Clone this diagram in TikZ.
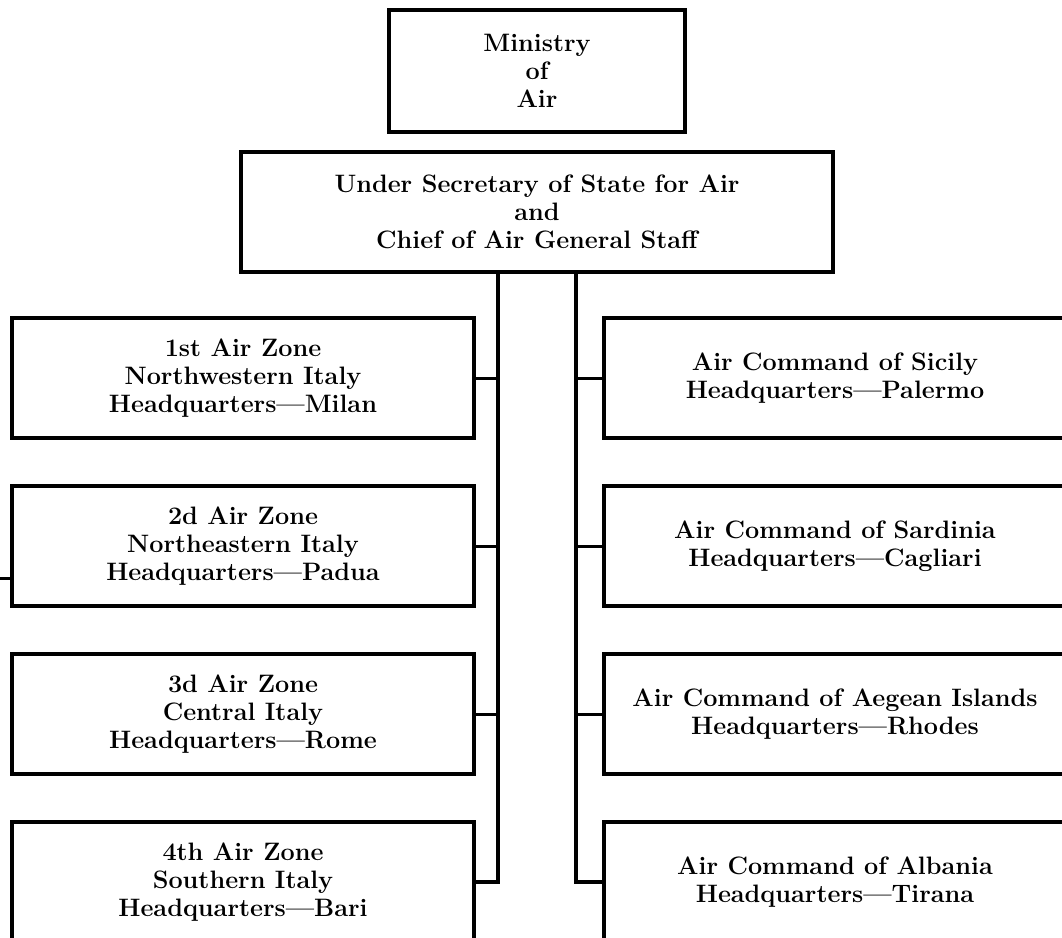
\documentclass[tikz,border=0pt]{standalone}
\usepackage{tikz}
\usetikzlibrary{positioning,calc}
\tikzset{
  org/box/.style={draw, line width=2pt, align=center, inner sep=0pt,
    minimum width=231pt, minimum height=60pt,
    font=\fontsize{12.6}{14}\selectfont\bfseries},
  org/head/.style={org/box, minimum width=148pt, minimum height=61pt},
  org/staff/.style={org/box, minimum width=296pt, minimum height=60pt},
  org/spine/.style={line width=2pt},
  org/tick/.style={line width=1.5pt}
}
\newcommand{\hq}[1]{Headquarters\textemdash#1}

\begin{document}
\begin{tikzpicture}[x=0.5pt, y=-0.5pt, node distance=22pt and 63pt]
  \useasboundingbox (0,0) rectangle (1062,938);
  \clip (0,0) rectangle (1062,938);

  \node[org/head] (ministry) at (537,71) {Ministry\\of\\Air};
  \node[org/staff, below=8pt of ministry] (undersec)
    {Under Secretary of State for Air\\and\\Chief of Air General Staff};

  % air zones
  \node[org/box] (zone1) at (243,378) {1st Air Zone\\Northwestern Italy\\\hq{Milan}};
  \node[org/box, below=of zone1] (zone2) {2d Air Zone\\Northeastern Italy\\\hq{Padua}};
  \node[org/box, below=of zone2] (zone3) {3d Air Zone\\Central Italy\\\hq{Rome}};
  \node[org/box, below=of zone3] (zone4) {4th Air Zone\\Southern Italy\\\hq{Bari}};

  % air commands
  \node[org/box, right=of zone1] (sicily) {Air Command of Sicily\\\hq{Palermo}};
  \node[org/box, below=of sicily] (sardinia) {Air Command of Sardinia\\\hq{Cagliari}};
  \node[org/box, below=of sardinia] (aegean) {Air Command of Aegean Islands\\\hq{Rhodes}};
  \node[org/box, below=of aegean] (albania) {Air Command of Albania\\\hq{Tirana}};

  \coordinate (spineL) at ($(undersec.south)+(-39,0)$);
  \coordinate (spineR) at ($(undersec.south)+(39,0)$);
  \draw[org/spine] (spineL) |- (zone4.east);
  \draw[org/spine] (spineR) |- (albania.west);
  \foreach \z in {zone1,zone2,zone3}
    \draw[org/tick] (\z.east) -- (\z.east -| spineL);
  \foreach \c in {sicily,sardinia,aegean}
    \draw[org/tick] (\c.west) -- (\c.west -| spineR);

  \coordinate (offcut) at (-6,578);
  \draw[org/tick] (offcut -| zone2.west) -- (offcut);
\end{tikzpicture}
\end{document}
